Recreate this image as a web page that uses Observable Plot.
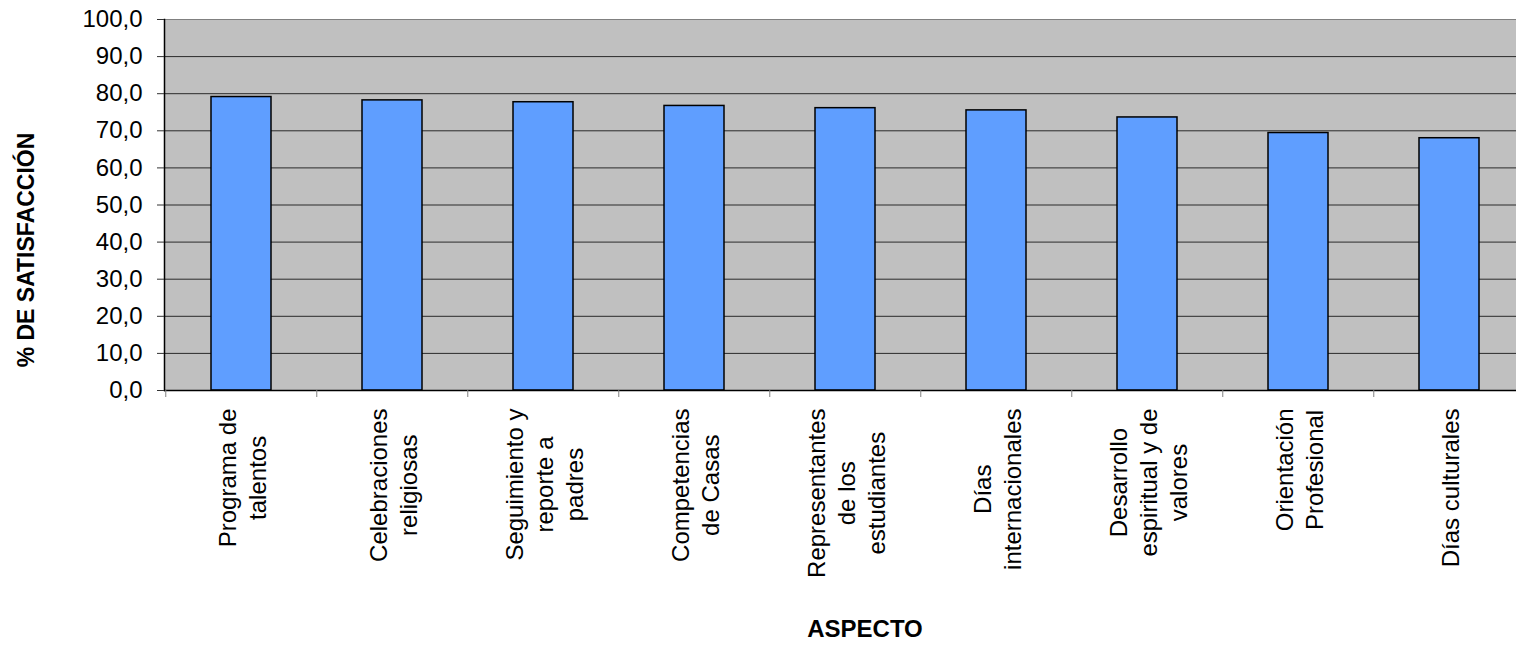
<!DOCTYPE html>
<html>
<head>
<meta charset="utf-8">
<script src="https://cdn.jsdelivr.net/npm/d3@7"></script>
<script src="https://cdn.jsdelivr.net/npm/@observablehq/plot@0.6"></script>
<style>
  html, body { margin: 0; padding: 0; background: #fff; width: 1516px; height: 645px; overflow: hidden; }
  #chart { width: 1516px; height: 645px; overflow: hidden; }
  #chart svg { display: block; max-width: none !important; }
</style>
</head>
<body>
<div id="chart"></div>
<script>
// ---- data ----
const categories = [
  "Programa de talentos",
  "Celebraciones religiosas",
  "Seguimiento y reporte a padres",
  "Competencias de Casas",
  "Representantes de los estudiantes",
  "Días internacionales",
  "Desarrollo espiritual y de valores",
  "Orientación Profesional",
  "Días culturales"
];
const tickLabels = [
  "Programa de\ntalentos",
  "Celebraciones\nreligiosas",
  "Seguimiento y\nreporte a\npadres",
  "Competencias\nde Casas",
  "Representantes\nde los\nestudiantes",
  "Días\ninternacionales",
  "Desarrollo\nespiritual y de\nvalores",
  "Orientación\nProfesional",
  "Días culturales"
];
const values = [79.1, 78.2, 77.7, 76.7, 76.1, 75.5, 73.6, 69.4, 68.0];
const yTicks = [0, 10, 20, 30, 40, 50, 60, 70, 80, 90, 100];
const yTitle = "% DE SATISFACCIÓN";
const xTitle = "ASPECTO";

// ---- layout ----
const FONT = "'Liberation Sans', Arial, Helvetica, sans-serif";
const width = 1527, height = 645;
const marginLeft = 164, marginRight = 0, marginTop = 19, marginBottom = 255;
const step = (width - marginLeft - marginRight) / categories.length;

const data = categories.map((c, i) => ({cat: c, value: values[i], label: tickLabels[i]}));

// measure longest line of each label so blocks are top-aligned
const ctx = document.createElement("canvas").getContext("2d");
ctx.font = "24px " + FONT;
const maxLineWidth = (s) => d3.max(s.split("\n"), (l) => ctx.measureText(l).width);

const fmt = (d) => d.toFixed(1).replace(".", ",");

const labelMarks = data.map((d) =>
  Plot.text([d], {
    x: "cat",
    text: "label",
    frameAnchor: "bottom",
    rotate: -90,
    textAnchor: "middle",
    lineAnchor: "middle",
    lineHeight: 1.25,
    fontSize: 24,
    fill: "black",
    dy: 18 + maxLineWidth(d.label) / 2
  })
);

const plot = Plot.plot({
  width, height, marginLeft, marginRight, marginTop, marginBottom,
  style: {fontFamily: FONT, background: "white", color: "black", overflow: "visible", maxWidth: "none"},
  x: {type: "band", domain: categories, paddingInner: 0.6, paddingOuter: 0.3, axis: null, label: null},
  y: {domain: [0, 100], axis: null, label: null},
  marks: [
    Plot.frame({fill: "#c0c0c0", stroke: "#808080", strokeWidth: 1}),
    Plot.ruleY(yTicks.filter((v) => v > 0 && v < 100), {stroke: "#2a2a2a", strokeWidth: 1}),
    Plot.barY(data, {x: "cat", y: "value", fill: "#5f9eff", stroke: "black", strokeWidth: 1.5}),
    Plot.ruleY([0], {stroke: "black", strokeWidth: 1.5}),
    Plot.frame({anchor: "left", stroke: "black", strokeWidth: 1.5}),
    Plot.axisY({ticks: yTicks, tickFormat: fmt, tickSize: 7, tickPadding: 15, fontSize: 24, stroke: "#333", fill: "black", label: null}),
    Plot.axisX({ticks: categories, tickFormat: () => "", tickSize: 7, dx: -step / 2, stroke: "#808080", label: null}),
    ...labelMarks,
    Plot.text([yTitle], {text: (d) => d, frameAnchor: "left", rotate: -90, dx: -138, dy: 45,
      fontSize: 23, fontWeight: "bold", fill: "black", textAnchor: "middle", lineAnchor: "middle"}),
    Plot.text([xTitle], {text: (d) => d, frameAnchor: "bottom", dx: 19, dy: 239,
      fontSize: 24, fontWeight: "bold", fill: "black", textAnchor: "middle", lineAnchor: "middle"})
  ]
});

document.getElementById("chart").appendChild(plot);
</script>
</body>
</html>
